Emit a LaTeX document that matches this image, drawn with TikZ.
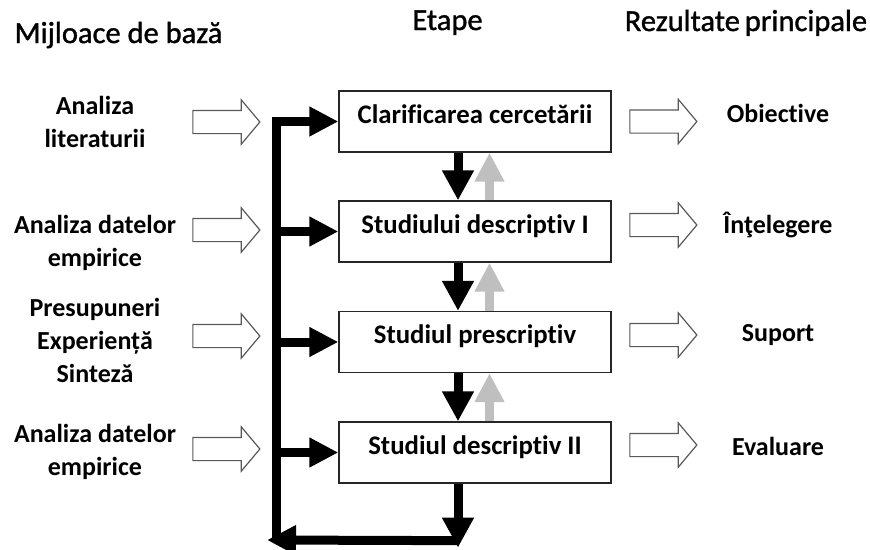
\documentclass[tikz,border=0pt]{standalone}
\usepackage{fontspec}
\setmainfont{Carlito}[Ligatures=NoCommon]
\newfontfamily\headfont{Carlito}[Ligatures=NoCommon,FakeBold=1.2]
\usetikzlibrary{arrows.meta,shapes.arrows,calc}

\definecolor{upgray}{HTML}{BFBFBF}
\definecolor{outline}{HTML}{595959}

\begin{document}
\begin{tikzpicture}[x=1pt,y=-1pt,
  stage/.style={draw=black!85, line width=1.3pt, fill=white,
    minimum width=272pt, minimum height=61pt,
    text height=17pt, text depth=14pt, inner sep=0pt,
    font=\bfseries\fontsize{26.8}{31}\selectfont},
  lbl/.style={align=center, inner sep=0pt,
    font=\bfseries\fontsize{26}{33}\selectfont},
  colhead/.style={anchor=base, inner sep=0pt,
    font=\headfont\fontsize{30.5}{36}\selectfont},
  hollow/.style={single arrow, draw=outline, line width=1.2pt, fill=white,
    minimum height=67pt, single arrow head extend=10.5pt,
    single arrow tip angle=100, inner sep=0pt,
    text width=0pt, text height=11pt, text depth=11pt},
  bus/.style={line width=9pt, black, line join=miter},
  feed/.style={bus, -{Triangle[width=28pt,length=29pt]}},
  down/.style={bus, -{Triangle[width=30pt,length=30pt]}},
  up/.style={line width=9pt, upgray, -{Triangle[width=28pt,length=29pt]}},
]
\path[use as bounding box] (0,0) rectangle (870,549);

% column headings
\node[colhead] (hmeans)   at (118.5,43) {Mijloace de bază};
\node[colhead] (hstages)  at (447.5,30) {Etape};
\node[colhead] (hresults) at (746,31) {Rezultate\hspace{-2pt} principale};

% research stages
\node[stage] (s1) at (475,121.5) {Clarificarea cercetării};
\node[stage] (s2) at (475,231.5) {Studiului descriptiv I};
\node[stage] (s3) at (475,342)   {Studiul prescriptiv};
\node[stage] (s4) at (475,452.5) {Studiul descriptiv II};

% basic means (left column)
\node[lbl] (m1) at (95,122) {Analiza\\literaturii};
\node[lbl] (m2) at (95,243) {Analiza datelor\\empirice};
\node[lbl] (m3) at (95,340) {Presupuneri\\Experiență\\Sinteză};
\node[lbl] (m4) at (95,452) {Analiza datelor\\empirice};

\node[hollow] (a1) at (221.5,122) {};
\node[hollow] (a2) at (221.5,230) {};
\node[hollow] (a3) at (221.5,336) {};
\node[hollow] (a4) at (221.5,449) {};

% main results (right column)
\node[hollow] (b1) at (658.5,121.5) {};
\node[hollow] (b2) at (658.5,225) {};
\node[hollow] (b3) at (658.5,335) {};
\node[hollow] (b4) at (658.5,445) {};

\node[lbl] (r1) at (778,113) {Obiective};
\node[lbl] (r2) at (778,225) {Înţelegere};
\node[lbl] (r3) at (778,335) {Suport};
\node[lbl] (r4) at (778,446) {Evaluare};

% forward flow and feedback between stages
\foreach \a/\b in {s1/s2, s2/s3, s3/s4}{
  \draw[down] ($(\a.south)+(-17,0)$) -- ($(\b.north)+(-17,0)$);
  \draw[up]   ($(\b.north)+(14.5,0)$) -- ($(\a.south)+(14.5,0)$);
}

% return loop feeding every stage
\coordinate (loopend) at ($(s4.south)+(-17,64)$);
\coordinate (loopturn) at ($(s4.south)+(-17,57)$);
\coordinate (ret) at (267,540);
\coordinate (bar) at (276,540);

\draw[down] ($(s4.south)+(-17,0)$) -- (loopend);
\draw[feed] (loopturn) -- (ret);
\draw[feed] (bar) |- (s1.west);
\draw[feed] (bar |- s2.west) -- (s2.west);
\draw[feed] (bar |- s3.west) -- (s3.west);
\draw[feed] (bar |- s4.west) -- (s4.west);
\end{tikzpicture}
\end{document}
